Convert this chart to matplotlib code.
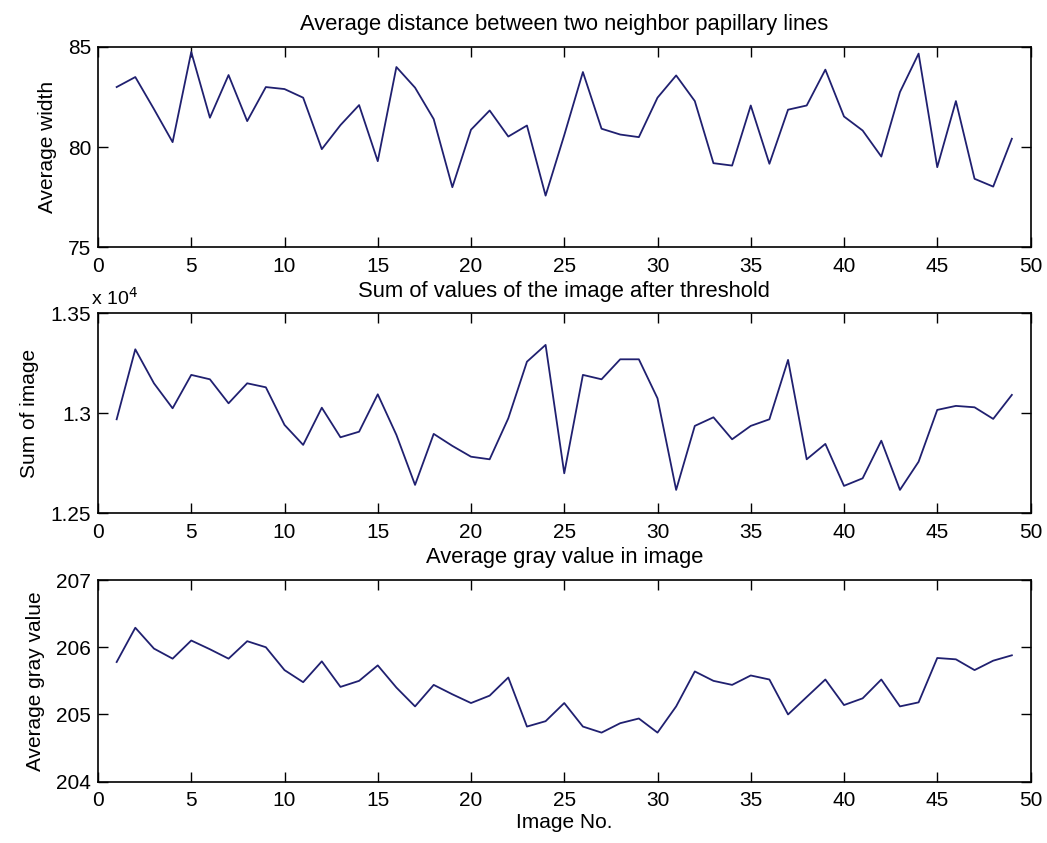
import numpy as np
import matplotlib
matplotlib.use("Agg")
import matplotlib.pyplot as plt
from matplotlib.ticker import FuncFormatter

plt.rcParams['font.family'] = ['Liberation Sans', 'DejaVu Sans']

image_no = list(range(1, 50))

avg_width = [83.0, 83.5, 81.9, 80.25, 84.75, 81.47, 83.6, 81.3, 83.0, 82.9,
             82.47, 79.9, 81.1, 82.1, 79.3, 84.0, 82.97, 81.4, 78.0, 80.87,
             81.83, 80.53, 81.08, 77.58, 80.6, 83.75, 80.92, 80.63, 80.5, 82.47,
             83.58, 82.3, 79.2, 79.08, 82.08, 79.17, 81.87, 82.08, 83.87, 81.53,
             80.83, 79.53, 82.75, 84.67, 79.0, 82.3, 78.42, 78.03, 80.42]

sum_image = [12970, 13320, 13150, 13025, 13192, 13170, 13050, 13150, 13130, 12942,
             12842, 13028, 12880, 12908, 13095, 12892, 12642, 12897, 12837, 12783,
             12770, 12975, 13258, 13342, 12700, 13192, 13170, 13270, 13270, 13075,
             12617, 12937, 12980, 12870, 12937, 12970, 13267, 12770, 12847, 12637,
             12675, 12863, 12617, 12758, 13017, 13037, 13030, 12972, 13092]

avg_gray = [205.78, 206.29, 205.98, 205.83, 206.10, 205.97, 205.83, 206.09, 206.0, 205.66,
            205.48, 205.79, 205.41, 205.5, 205.73, 205.40, 205.12, 205.44, 205.30, 205.17,
            205.28, 205.55, 204.82, 204.90, 205.17, 204.82, 204.73, 204.87, 204.94, 204.73,
            205.12, 205.64, 205.5, 205.44, 205.58, 205.52, 205.0, 205.26, 205.52, 205.14,
            205.24, 205.52, 205.12, 205.18, 205.84, 205.82, 205.66, 205.80, 205.88]

titles = ["Average distance between two neighbor papillary lines",
          "Sum of values of the image after threshold",
          "Average gray value in image"]
ylabels = ["Average width", "Sum of image", "Average gray value"]
xlabel = "Image No."
xticks = [0, 5, 10, 15, 20, 25, 30, 35, 40, 45, 50]
yticks1 = [75, 80, 85]
yticks2 = [12500, 13000, 13500]
yticks3 = [204, 205, 206, 207]

W, H = 1047, 843
fig = plt.figure(figsize=(W / 100, H / 100), dpi=100)
fig.patch.set_facecolor('white')

left = 98 / W
width = (1030.5 - 98) / W
boxes = [(47, 247.3), (313.3, 513.3), (580, 781.7)]
series = [avg_width, sum_image, avg_gray]
yts = [yticks1, yticks2, yticks3]
line_color = '#202070'
fs = 15
fs_title = 15.8

axes = []
for i, ((top, bot), data, yt) in enumerate(zip(boxes, series, yts)):
    ax = fig.add_axes([left, 1 - bot / H, width, (bot - top) / H])
    ax.plot(image_no, data, color=line_color, lw=1.3)
    ax.set_xlim(0, 50)
    ax.set_ylim(yt[0], yt[-1])
    ax.set_xticks(xticks)
    ax.set_yticks(yt)
    ax.tick_params(direction='in', length=7, width=1.0, top=True, right=True,
                   labelsize=fs, colors='black')
    ax.tick_params(axis='x', pad=7)
    ax.tick_params(axis='y', pad=5)
    for s in ax.spines.values():
        s.set_linewidth(1.2)
        s.set_color('black')
    ax.set_title(titles[i], fontsize=fs_title, pad=12)
    ax.set_ylabel(ylabels[i], fontsize=fs, labelpad=8)
    axes.append(ax)

axes[1].yaxis.set_major_formatter(FuncFormatter(lambda v, p: f"{v / 1e4:g}"))
axes[1].text(-0.008, 1.02, r"x 10$^4$", transform=axes[1].transAxes,
             fontsize=fs - 1, ha='left', va='bottom')
axes[2].set_xlabel(xlabel, fontsize=fs, labelpad=2)

fig.savefig("out.png", dpi=100, facecolor='white')
